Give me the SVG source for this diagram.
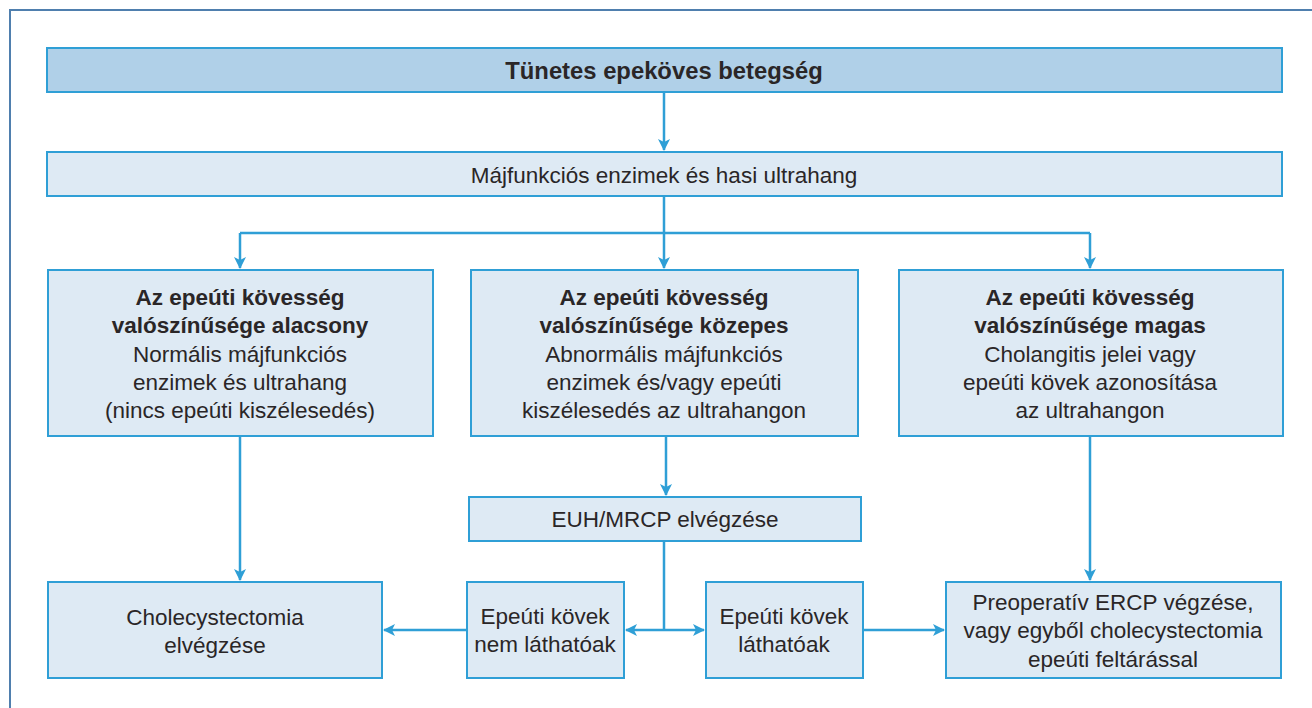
<svg xmlns="http://www.w3.org/2000/svg" width="1312" height="708" viewBox="0 0 1312 708">
<style>
.box{fill:#deeaf4;stroke:#2f9fd6;stroke-width:2}
.title{fill:#b0d0e8;stroke:#2f9fd6;stroke-width:2}
text{font-family:"Liberation Sans",Arial,sans-serif;font-size:22.5px;fill:#2a2627;text-anchor:middle}
.b{font-weight:bold;font-size:22.5px}
.tb{font-weight:bold;font-size:23.8px}
.con{stroke:#2f9fd6;stroke-width:2.5;fill:none}
</style>
<defs>
<marker id="ah2" viewBox="0 0 12 12" refX="11" refY="6" markerWidth="12" markerHeight="12" markerUnits="userSpaceOnUse" orient="auto">
<path d="M0,0 L12,6 L0,12 L3,6 z" fill="#2f9fd6"/>
</marker>
</defs>
<rect x="0" y="0" width="1312" height="708" fill="#ffffff"/>
<rect x="10" y="10" width="1320" height="720" fill="none" stroke="#4f7fae" stroke-width="2"/>

<g id="connectors">
<line class="con" x1="664" y1="92" x2="664" y2="150" marker-end="url(#ah2)"/>
<line class="con" x1="664" y1="196" x2="664" y2="233"/>
<line class="con" x1="240" y1="233" x2="1090" y2="233"/>
<line class="con" x1="240" y1="233" x2="240" y2="268" marker-end="url(#ah2)"/>
<line class="con" x1="1090" y1="233" x2="1090" y2="268" marker-end="url(#ah2)"/>
<line class="con" x1="664" y1="233" x2="664" y2="268" marker-end="url(#ah2)"/>
<line class="con" x1="240" y1="436" x2="240" y2="580" marker-end="url(#ah2)"/>
<line class="con" x1="666" y1="436" x2="666" y2="495" marker-end="url(#ah2)"/>
<line class="con" x1="1090" y1="436" x2="1090" y2="580" marker-end="url(#ah2)"/>
<line class="con" x1="664" y1="541" x2="664" y2="630"/>
<line class="con" x1="664" y1="630" x2="626" y2="630" marker-end="url(#ah2)"/>
<line class="con" x1="664" y1="630" x2="704" y2="630" marker-end="url(#ah2)"/>
<line class="con" x1="467" y1="630" x2="384" y2="630" marker-end="url(#ah2)"/>
<line class="con" x1="863" y1="630" x2="944" y2="630" marker-end="url(#ah2)"/>
</g>

<g id="n-title">
<rect class="title" x="47" y="48" width="1235" height="44"/>
<text class="tb" x="664" y="79">Tünetes epeköves betegség</text>
</g>
<g id="n-enzimek">
<rect class="box" x="47" y="152" width="1235" height="44"/>
<text x="664" y="183">Májfunkciós enzimek és hasi ultrahang</text>
</g>
<g id="n-alacsony">
<rect class="box" x="48" y="270" width="385" height="166"/>
<text x="240" y="305"><tspan class="b">Az epeúti kövesség</tspan><tspan class="b" x="240" dy="28">valószínűsége alacsony</tspan><tspan x="240" dy="29">Normális májfunkciós</tspan><tspan x="240" dy="28">enzimek és ultrahang</tspan><tspan x="240" dy="28">(nincs epeúti kiszélesedés)</tspan></text>
</g>
<g id="n-kozepes">
<rect class="box" x="471" y="270" width="387" height="166"/>
<text x="664" y="305"><tspan class="b">Az epeúti kövesség</tspan><tspan class="b" x="664" dy="28">valószínűsége közepes</tspan><tspan x="664" dy="29">Abnormális májfunkciós</tspan><tspan x="664" dy="28">enzimek és/vagy epeúti</tspan><tspan x="664" dy="28">kiszélesedés az ultrahangon</tspan></text>
</g>
<g id="n-magas">
<rect class="box" x="899" y="270" width="384" height="166"/>
<text x="1090" y="305"><tspan class="b">Az epeúti kövesség</tspan><tspan class="b" x="1090" dy="28">valószínűsége magas</tspan><tspan x="1090" dy="29">Cholangitis jelei vagy</tspan><tspan x="1090" dy="28">epeúti kövek azonosítása</tspan><tspan x="1090" dy="28">az ultrahangon</tspan></text>
</g>
<g id="n-euh">
<rect class="box" x="469" y="497" width="392" height="44"/>
<text x="665" y="527">EUH/MRCP elvégzése</text>
</g>
<g id="n-chole">
<rect class="box" x="48" y="582" width="334" height="96"/>
<text x="215" y="625">Cholecystectomia<tspan x="215" dy="28">elvégzése</tspan></text>
</g>
<g id="n-nem">
<rect class="box" x="467" y="582" width="157" height="96"/>
<text x="545" y="624">Epeúti kövek<tspan x="545" dy="28">nem láthatóak</tspan></text>
</g>
<g id="n-lathato">
<rect class="box" x="706" y="582" width="157" height="96"/>
<text x="784" y="624">Epeúti kövek<tspan x="784" dy="28">láthatóak</tspan></text>
</g>
<g id="n-preop">
<rect class="box" x="946" y="582" width="335" height="96"/>
<text x="1113" y="610">Preoperatív ERCP végzése,<tspan x="1113" dy="28">vagy egyből cholecystectomia</tspan><tspan x="1113" dy="29">epeúti feltárással</tspan></text>
</g>
</svg>
